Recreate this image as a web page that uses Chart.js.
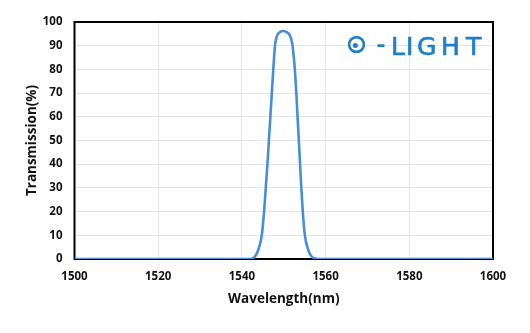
<!DOCTYPE html>
<html>
<head>
<meta charset="utf-8">
<script src="https://cdn.jsdelivr.net/npm/chart.js@4"></script>
<style>
html,body{margin:0;padding:0;background:#fff;}
#wrap{position:relative;width:530px;height:333px;}
</style>
</head>
<body>
<div id="wrap"><canvas id="c" width="530" height="333"></canvas></div>
<script>
const wavelengths = [1500, 1540, 1542.0, 1542.8, 1543.4, 1543.9, 1544.75, 1545.3, 1545.7, 1546.1, 1546.45, 1546.8, 1547.15, 1547.5, 1547.9, 1548.2, 1548.5, 1549.0, 1549.9, 1550.7, 1551.4, 1551.75, 1552.1, 1552.65, 1553.0, 1553.3, 1553.6, 1553.9, 1554.2, 1554.55, 1555.05, 1555.85, 1556.6, 1557.3, 1558.2, 1560, 1600];
const transmission = [0, 0, 0, 0.5, 1.8, 3.8, 10, 20, 30, 40, 50, 60, 70, 80, 90, 93, 94.6, 95.7, 96.2, 95.7, 94.6, 93, 90, 80, 70, 60, 50, 40, 30, 20, 10, 3.8, 1.2, 0.3, 0, 0, 0];
const xTicks = [1500, 1520, 1540, 1560, 1580, 1600];
const yTicks = [0, 10, 20, 30, 40, 50, 60, 70, 80, 90, 100];
const xTitle = 'Wavelength(nm)';
const yTitle = 'Transmission(%)';
const logoText = 'LIGHT';

const points = wavelengths.map((w, i) => ({x: w, y: transmission[i]}));

const framePlugin = {
  id: 'frame',
  beforeDatasetsDraw(chart) {
    const {ctx, chartArea: a} = chart;
    ctx.save();
    ctx.strokeStyle = '#000';
    ctx.lineWidth = 2;
    ctx.strokeRect(a.left, a.top, a.right - a.left, a.bottom - a.top);
    ctx.restore();
  }
};

const logoPlugin = {
  id: 'logo',
  afterDraw(chart) {
    const ctx = chart.ctx;
    const blue = '#1f7fc8';
    ctx.save();
    ctx.strokeStyle = blue;
    ctx.fillStyle = blue;
    ctx.lineWidth = 2.6;
    ctx.beginPath();
    ctx.arc(356.5, 44.5, 7.4, 0, Math.PI * 2);
    ctx.stroke();
    ctx.beginPath();
    ctx.arc(355.3, 45.6, 2.5, 0, Math.PI * 2);
    ctx.fill();
    ctx.fillRect(377.5, 44.3, 7, 2.8);
    ctx.font = '25px "DejaVu Sans"';
    ctx.textBaseline = 'alphabetic';
    ctx.lineWidth = 0.7;
    const inkLefts = [393, 408, 418, 443, 465];
    logoText.split('').forEach((c, i) => {
      const m = ctx.measureText(c);
      const x = inkLefts[i] + m.actualBoundingBoxLeft;
      ctx.fillText(c, x, 55);
      ctx.strokeText(c, x, 55);
    });
    ctx.restore();
  }
};

new Chart(document.getElementById('c'), {
  type: 'line',
  data: {
    datasets: [{
      data: points,
      borderColor: 'rgb(70,143,214)',
      borderWidth: 2.6,
      pointRadius: 0,
      fill: false,
      cubicInterpolationMode: 'monotone'
    }]
  },
  options: {
    responsive: false,
    animation: false,
    events: [],
    layout: {padding: {left: 0, right: 37, top: 22, bottom: 0}},
    plugins: {legend: {display: false}, tooltip: {enabled: false}},
    scales: {
      x: {
        type: 'linear',
        min: 1500, max: 1600,
        afterFit(s) { s.height = 74; },
        afterBuildTicks(s) { s.ticks = xTicks.map(v => ({value: v})); },
        grid: {color: '#e4e4e4', lineWidth: 1, drawTicks: false},
        border: {display: false},
        ticks: {color: '#111', font: {family: '"Open Sans"', size: 11.5, weight: 'bold'}, padding: 11, maxRotation: 0, callback: v => String(v)},
        title: {display: true, text: xTitle, color: '#111', font: {family: '"Open Sans"', size: 13.5, weight: 'bold'}, padding: {top: 0, bottom: 26}}
      },
      y: {
        min: 0, max: 100,
        afterFit(s) { s.width = 74.5; },
        afterBuildTicks(s) { s.ticks = yTicks.map(v => ({value: v})); },
        grid: {color: '#e4e4e4', lineWidth: 1, drawTicks: false},
        border: {display: false},
        ticks: {color: '#111', font: {family: '"Open Sans"', size: 11.5, weight: 'bold'}, padding: 12, callback: v => String(v)},
        title: {display: true, text: yTitle, color: '#111', font: {family: '"Open Sans"', size: 13.5, weight: 'bold'}, padding: {top: 24, bottom: 0}}
      }
    }
  },
  plugins: [framePlugin, logoPlugin]
});
</script>
</body>
</html>
